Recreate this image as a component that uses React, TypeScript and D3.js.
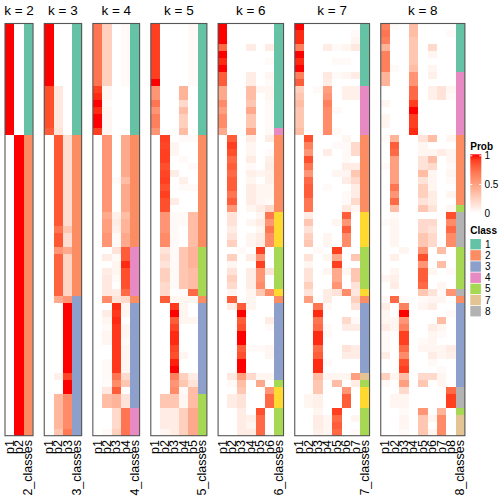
import React from 'react';
import * as d3 from 'd3';

// ---------- data (59 samples, same order in every panel) ----------
const k2p1 = [1,1,1,1,1,1,1,1,1,1, 1,1,1,1,1,1,0,0,0,0, 0,0,0,0,0,0,0,0,0,0, 0,0,0,0,0,0,0,0,0,0, 0,0,0,0,0,0,0,0,0,0, 0,0,0,0,0,0,0,0,0];
const k2p2 = [0,0,0,0,0,0,0,0,0,0, 0,0,0,0,0,0,1,1,1,1, 1,1,1,1,1,1,1,1,1,1, 1,1,1,1,1,1,1,1,1,1, 1,1,1,1,1,1,1,1,1,1, 1,1,1,1,1,1,1,1,1];
const k2cls = [1,1,1,1,1,1,1,1,1,1, 1,1,1,1,1,1,2,2,2,2, 2,2,2,2,2,2,2,2,2,2, 2,2,2,2,2,2,2,2,2,2, 2,2,2,2,2,2,2,2,2,2, 2,2,2,2,2,2,2,2,2];

const k3p1 = [1,1,1,1,1,1,1,1,1,.85, .85,.85,.85,.85,.85,.8,0,0,0,0, 0,0,0,0,0,0,0,0,0,0, 0,0,0,0,0,0,0,0,0,0, 0,0,0,0,0,0,0,0,0,0, 0,0,0,0,0,0,0,0,0];
const k3p2 = [0,0,0,0,0,0,0,0,0,.12, .12,.12,.12,.12,.12,.15,.82,.82,.82,.82, .82,.82,.82,.82,.82,.82,.82,.82,.82,.7, .82,.82,.55,.78,.78,.78,.78,.78,.78,.45, 0,0,0,0,0,0,0,0,0,0, .08,0,0,.38,.38,.38,.38,.38,.3];
const k3p3 = [0,0,0,0,0,0,0,0,0,0, 0,0,0,0,0,0,.18,.18,.18,.18, .18,.18,.18,.18,.18,.18,.18,.18,.18,.3, .18,.18,.45,.22,.22,.22,.22,.22,.22,.55, 1,1,1,1,1,1,1,1,1,1, .88,1,1,.6,.6,.6,.6,.6,.68];
const k3cls = [1,1,1,1,1,1,1,1,1,1, 1,1,1,1,1,1,2,2,2,2, 2,2,2,2,2,2,2,2,2,2, 2,2,2,2,2,2,2,2,2,3, 3,3,3,3,3,3,3,3,3,3, 3,3,3,3,3,3,3,3,3];

const k4p1 = [.7,.7,.7,.7,.7,.7,.7,.7,.7,.9, .95,1,.95,1,1,.9,0,0,0,0, 0,0,0,0,0,0,0,0,0,0, 0,0,0,0,0,0,0,0,0,0, 0,0,0,0,0,0,0,0,0,0, 0,0,0,0,0,0,0,0,0];
const k4p2 = [.25,.25,.25,.25,.25,.25,.25,.25,.25,.05, .05,.03,.05,.05,.05,.05,.55,.55,.55,.55, .55,.55,.55,.55,.55,.55,.55,.45,.5,.5, .55,.55,0,.1,0,.1,.12,.12,.12,.6, 0,.1,.05,.03,.05,.05,0,0,.03,.03, .03,.02,.12,.35,.35,0,0,0,.03];
const k4p3 = [0,0,0,0,0,0,0,0,0,0, 0,0,0,0,0,0,0,0,0,0, 0,0,.03,0,0,0,0,.08,.1,.08, .03,.03,.15,.03,.05,.05,.03,0,.1,.15, .95,.92,.95,.92,.92,.92,.92,.92,.92,.92, .7,.6,.8,.4,.4,.2,.2,.2,.25];
const k4p4 = [.03,.03,.03,.03,.03,.03,.03,.03,.03,0, 0,0,0,0,0,0,.45,.45,.45,.45, .45,.45,.35,.45,.45,.45,.45,.35,.4,.4, .45,.45,.8,.8,.95,.85,.85,.85,.75,.2, .05,.05,0,.05,.05,.03,.05,.05,.05,.05, .2,.3,0,.15,.15,.7,.7,.7,.7];
const k4cls = [1,1,1,1,1,1,1,1,1,1, 1,1,1,1,1,1,2,2,2,2, 2,2,2,2,2,2,2,2,2,2, 2,2,4,4,4,4,4,4,4,2, 3,3,3,3,3,3,3,3,3,3, 3,3,3,3,3,4,4,4,4];

const k5p1 = [.9,.9,.9,.9,.9,.9,.9,.9,1,.55, .55,.7,.55,.65,.65,.55,0,0,0,0, 0,0,0,0,0,0,0,0,0,0, 0,0,0,0,0,0,0,0,0,0, 0,0,0,0,0,0,0,0,0,0, 0,0,0,0,0,0,0,0,0];
const k5p2 = [0,0,0,0,0,0,0,0,0,0, 0,0,0,0,0,0,.9,.88,.9,.9, .85,.88,.9,.85,.9,.85,.85,.55,.55,.55, .6,.6,.15,.2,.15,.25,.25,.2,.2,.8, 0,0,0,0,0,0,0,0,0,0, 0,0,0,.3,.3,.1,.1,.1,.05];
const k5p3 = [0,0,0,0,0,0,0,0,0,0, 0,0,0,0,0,0,0,.05,.05,0, 0,.1,0,0,0,.1,0,.03,.03,.03, .03,.03,.03,.03,.03,.03,.03,.03,0,.05, .92,1,.8,.88,.95,.95,.88,.85,.97,1, .65,.55,.6,.3,.3,.1,.1,.1,.1];
const k5p4 = [0,0,0,0,0,0,0,0,0,.4, .4,.2,.35,.25,.25,.35,.03,0,0,.03, 0,0,.08,.03,0,0,0,.03,.03,0, 0,0,.3,.3,.3,.3,.3,.3,.03,.05, .05,.05,.05,0,0,0,0,.05,0,0, .25,.3,.03,.05,.05,.25,.25,.25,.25];
const k5p5 = [.03,.03,.03,.03,.03,.03,.03,.03,.03,0, 0,0,0,0,0,0,.03,0,0,0, .03,0,0,.03,0,0,0,.35,.35,.35, .35,.35,.4,.4,.4,.35,.35,.35,.75,.05, 0,0,.05,0,0,0,0,0,0,0, .1,.15,.35,.35,.35,.45,.45,.45,.45];
const k5cls = [1,1,1,1,1,1,1,1,1,1, 1,1,1,1,1,1,2,2,2,2, 2,2,2,2,2,2,2,2,2,2, 2,2,5,5,5,5,5,5,5,2, 3,3,3,3,3,3,3,3,3,3, 3,3,3,5,5,5,5,5,5];

const k6p1 = [1,1,1,.75,1,.95,1,.8,.8,.45, .45,.6,.5,.6,.6,.45,0,0,0,0, 0,0,0,0,0,0,0,0,0,0, 0,0,0,0,0,0,0,0,0,0, 0,0,0,0,0,0,0,0,0,0, 0,0,0,0,0,0,0,0,0];
const k6p2 = [0,0,0,0,0,0,0,0,0,0, 0,0,0,0,0,0,.8,.9,.85,.75, .8,.75,.8,.8,.7,.8,.55,.15,.15,.1, .15,.25,0,.25,.05,.15,.25,.2,.05,.8, .1,0,0,0,0,0,0,0,0,0, .12,.03,0,.1,.1,0,0,0,0];
const k6p3 = [0,0,0,0,0,0,0,0,0,0, 0,0,0,0,0,0,0,0,0,0, 0,0,0,0,0,0,0,0,0,0, 0,0,.03,0,0,0,0,0,0,0, .8,1,.8,.85,1,1,.8,.85,1,1, .5,.35,.3,.15,.15,.1,.1,.1,.1];
const k6p4 = [0,0,0,.1,0,0,0,.1,.1,.35, .35,.3,.45,.3,.3,.5,.1,.05,.05,.1, .03,.08,.05,.1,.1,.1,.05,0,.05,0, .05,.05,0,.1,0,.1,.1,.1,.05,.05, .05,0,0,0,0,0,.03,0,0,0, .2,0,0,0,0,0,.08,.05,.1];
const k6p5 = [0,0,0,0,0,0,0,0,0,.05, 0,0,0,0,0,0,0,0,0,0, 0,.05,0,.05,.05,.05,.1,.05,.1,.05, .1,.1,.9,.55,.9,.55,.55,.6,.3,0, 0,0,0,0,0,0,.03,0,0,0, .05,.45,0,0,0,.85,.75,.75,.75];
const k6p6 = [0,0,0,.1,0,.03,0,.05,.03,.05, .05,.03,.03,.03,.03,.03,.1,0,.03,.08, .1,.08,.08,.05,.05,.03,.2,.7,.55,.7, .6,.6,0,0,0,.15,0,0,.6,0, 0,0,.1,.03,0,0,.05,.05,0,0, .05,0,.55,.75,.75,0,0,0,0];
const k6cls = [1,1,1,1,1,1,1,1,1,1, 1,1,1,1,1,4,2,2,2,2, 2,2,2,2,2,2,2,6,6,6, 6,6,5,5,5,5,5,5,6,2, 3,3,3,3,3,3,3,3,3,3, 3,5,6,6,6,5,5,5,5];

const k7p1 = [1,.95,.95,.65,1,.95,1,.65,.8,.25, .3,.35,.3,.3,.3,.35,0,0,0,0, 0,0,0,0,0,0,0,0,0,0, 0,0,0,0,0,0,0,0,0,0, 0,0,0,0,0,0,0,0,0,0, 0,0,0,0,0,0,0,0,0];
const k7p2 = [0,0,0,0,0,0,0,0,0,0, 0,0,0,0,0,0,.85,.65,.55,.85, .7,.55,.75,.8,.8,.7,.7,.1,.3,.15, .25,.3,0,.15,.05,.15,.15,.25,.15,.5, 0,0,0,0,0,0,0,0,0,0, 0,0,0,.05,.05,0,0,0,0];
const k7p3 = [0,0,0,0,0,0,0,0,0,.03, 0,0,0,0,0,0,0,0,0,0, 0,0,0,0,0,0,0,0,0,0, 0,0,.03,0,0,0,0,0,0,0, .7,.95,.7,.75,.95,.95,.75,.8,.95,.95, .35,.3,.3,.08,.08,.05,.1,.1,.08];
const k7p4 = [0,0,0,.1,0,0,0,.12,.1,.5, .55,.65,.6,.6,.6,.6,0,0,.1,0, 0,0,0,.03,0,0,0,0,0,0, .05,.05,0,.05,0,.05,0,0,.1,.1, .03,0,0,.03,.03,0,0,0,.03,0, .05,0,0,0,0,0,.05,.05,.05];
const k7p5 = [0,0,0,.03,0,.03,0,.03,0,0, 0,0,.03,0,0,.03,0,.03,0,0, 0,.05,0,0,0,0,0,0,.05,0, 0,0,.9,.45,.9,.45,.45,.55,.15,0, 0,0,0,0,0,0,0,0,0,0, .05,.35,0,0,0,.9,.75,.8,.75];
const k7p6 = [0,0,0,.05,0,.03,0,.05,0,.08, .08,0,0,0,0,0,.05,.03,.03,.03, .1,.05,.1,0,.03,.03,.12,.8,.55,.8, .6,.6,0,0,0,.05,0,0,.6,0, 0,0,.2,.1,0,0,.15,.1,0,0, .05,0,.55,.8,.8,0,0,0,0];
const k7p7 = [0,.03,.05,.12,0,0,0,.1,0,.08, .08,0,0,0,0,0,0,.2,.2,0, .1,.3,.2,.1,.1,.2,.05,0,0,0, 0,0,0,.3,0,.3,.3,.15,.12,.25, .15,0,.03,.1,0,0,.1,.1,0,0, .5,.1,0,0,0,0,.05,0,.03];
const k7cls = [1,1,1,1,1,1,1,1,1,4, 4,4,4,4,4,4,2,2,2,2, 2,2,2,2,2,2,2,6,6,6, 6,6,5,5,5,5,5,5,6,2, 3,3,3,3,3,3,3,3,3,3, 7,5,6,6,6,5,5,5,5];

const k8p1 = [.65,.7,.65,.4,.65,.65,.65,.4,.4,0, 0,.05,0,.05,.05,0,.03,0,0,0, .03,0,0,0,0,0,0,0,.03,0, 0,0,0,0,0,0,.05,0,0,.03, .1,.05,.05,.1,.03,.03,.03,.1,0,0, .25,.03,0,0,0,0,0,0,0];
const k8p2 = [.03,0,0,0,0,0,.03,0,0,0, 0,0,0,0,0,0,.4,.8,.75,.5, .5,.5,.5,.7,.55,.75,.35,.03,.05,.05, .05,.05,0,.08,0,.05,.08,.1,0,.75, 0,0,.05,.05,0,0,0,0,0,0, .05,0,0,.05,.05,0,0,0,0];
const k8p3 = [0,0,0,0,0,0,0,0,0,0, 0,0,0,0,0,0,0,0,0,0, 0,0,0,0,0,0,0,0,0,0, 0,0,.05,0,0,0,0,0,0,.03, .65,1,.55,.65,.9,.9,.75,.6,.85,.9, .35,.5,.2,.05,.05,.03,.05,.05,.03];
const k8p4 = [.35,.35,.3,.3,.3,.3,.35,.55,.55,.75, .75,.9,1,.9,.9,.95,0,0,0,0, 0,0,0,0,0,0,0,0,0,0, 0,0,0,0,0,0,0,0,0,0, 0,0,0,0,0,0,0,0,0,0, 0,0,0,0,0,0,0,0,0];
const k8p5 = [0,0,0,0,0,0,0,0,0,0, 0,0,0,0,0,0,.15,.05,.05,.15, .15,.35,.15,.25,.25,.15,.3,0,.2,.2, .3,.3,.55,.85,.55,.8,.8,.75,.3,.03, .05,0,0,0,0,.03,.05,0,0,0, .2,.3,0,0,0,.55,.3,.3,.3];
const k8p6 = [0,0,0,.2,.05,0,.05,.08,0,.08, .08,0,0,0,0,0,.35,0,.05,.35, .2,.05,.05,.05,.1,.1,.15,0,.2,.15, .2,.2,0,0,0,.05,0,0,.15,.05, .1,0,0,.1,.05,.05,.05,.1,.03,0, .2,0,0,0,0,0,.05,0,.05];
const k8p7 = [0,0,0,0,0,0,0,0,0,.15, .15,0,0,0,0,0,0,0,.1,0, 0,0,0,0,0,0,0,0,0,0, 0,0,.35,0,.35,0,0,.05,.03,.05, 0,0,.35,.05,.03,0,.05,.05,0,.03, .05,.05,0,0,0,.4,.6,.6,.6];
const k8p8 = [0,.03,0,0,0,0,0,0,0,.05, .03,0,0,0,0,0,.05,0,.05,.05, .03,.05,.03,0,.05,0,.05,.85,.6,.75, .6,.6,0,0,0,.03,0,0,.55,0, 0,.03,0,0,0,0,.1,.08,0,0, 0,0,.75,.9,.9,0,0,0,0];
const k8cls = [1,1,1,1,1,1,1,4,4,4, 4,4,4,4,4,4,2,2,2,2, 2,2,2,2,2,2,5,8,8,8, 8,8,5,5,5,5,5,5,8,2, 3,3,3,3,3,3,3,3,3,3, 3,3,8,8,8,5,7,7,7];

const kValues = [2, 3, 4, 5, 6, 7, 8];
const probColumns = [
  [k2p1, k2p2],
  [k3p1, k3p2, k3p3],
  [k4p1, k4p2, k4p3, k4p4],
  [k5p1, k5p2, k5p3, k5p4, k5p5],
  [k6p1, k6p2, k6p3, k6p4, k6p5, k6p6],
  [k7p1, k7p2, k7p3, k7p4, k7p5, k7p6, k7p7],
  [k8p1, k8p2, k8p3, k8p4, k8p5, k8p6, k8p7, k8p8],
];
const classColumns = [k2cls, k3cls, k4cls, k5cls, k6cls, k7cls, k8cls];

const classIds = [1, 2, 3, 4, 5, 6, 7, 8];
const classPalette = ['#66C2A5', '#FC8D62', '#8DA0CB', '#E78AC3', '#A6D854', '#FFD92F', '#E5C494', '#B3B3B3'];
const legendClasses = [1, 2, 3, 4, 5, 7, 8];
const probTicks = [1, 0.5, 0];

// ---------- layout ----------
const W = 504, H = 504;
const LEFT = 5, COLW = 9.35, GAP = 11.2;
const TOP = 23.5, BOTTOM = 435.7;
const FONT = "'Liberation Sans', Arial, Helvetica, sans-serif";

const probColor = d3.scaleLinear<string>().domain([0, 1]).range(['#FFFFFF', '#FF0000']).interpolate(d3.interpolateLab);
const classColor = d3.scaleOrdinal<number, string>().domain(classIds).range(classPalette);
const nRows = k2cls.length;
const yScale = d3.scaleBand<number>().domain(d3.range(nRows)).range([TOP, BOTTOM]).padding(0);

export default function App() {
  let offset = LEFT;
  const panels = kValues.map((k, pi) => {
    const labels = [...probColumns[pi].map((_, j) => `p${j + 1}`), `${k}_classes`];
    const x0 = offset;
    const w = labels.length * COLW;
    offset += w + GAP;
    const xScale = d3.scaleBand<string>().domain(labels).range([x0, x0 + w]).padding(0);
    return { k, pi, labels, x0, w, xScale };
  });

  const legX = 470.3;
  const barTop = 154.3, barBottom = 213.2;
  const barScale = d3.scaleLinear().domain([0, 1]).range([barBottom, 155.8]);
  const gradStops = d3.range(0, 1.0001, 0.1);

  return (
    <svg width={W} height={H} style={{ position: 'absolute', left: 0, top: 0 }} fontFamily={FONT}>
      <defs>
        <linearGradient id="probGrad" x1="0" y1="1" x2="0" y2="0">
          {gradStops.map((v) => (
            <stop key={v} offset={`${v * 100}%`} stopColor={probColor(v)} />
          ))}
        </linearGradient>
      </defs>
      <rect x={0} y={0} width={W} height={H} fill="#FFFFFF" />
      {panels.map(({ k, pi, labels, x0, w, xScale }) => (
        <g key={k}>
          <text x={x0 + w / 2} y={15} textAnchor="middle" fontSize={13.5} fill="#000">{`k = ${k}`}</text>
          <g shapeRendering="crispEdges">
            {probColumns[pi].map((col, j) =>
              col.map((v, i) => (
                <rect key={`${j}-${i}`} x={xScale(labels[j])} y={yScale(i)} width={xScale.bandwidth()} height={yScale.bandwidth()} fill={probColor(v)} />
              ))
            )}
            {classColumns[pi].map((c, i) => (
              <rect key={`c-${i}`} x={xScale(labels[labels.length - 1])} y={yScale(i)} width={xScale.bandwidth()} height={yScale.bandwidth()} fill={classColor(c)} />
            ))}
          </g>
          <rect x={x0} y={TOP} width={w} height={BOTTOM - TOP} fill="none" stroke="#555" strokeWidth={1.1} />
          {labels.map((l) => {
            const cx = (xScale(l) as number) + xScale.bandwidth() / 2;
            const ly = 440;
            return (
              <text key={l} x={cx} y={ly} transform={`rotate(-90 ${cx} ${ly})`} textAnchor="end" dominantBaseline="central" fontSize={12.5} fill="#000">{l}</text>
            );
          })}
        </g>
      ))}

      {/* Prob legend */}
      <text x={legX} y={149.5} fontSize={10} fontWeight="bold" fill="#000">Prob</text>
      <rect x={legX} y={barTop} width={11} height={barBottom - barTop} fill="url(#probGrad)" />
      {probTicks.filter((t) => t > 0).map((t) => (
        <g key={`tk-${t}`} stroke="#FFFFFF" strokeWidth={1}>
          <line x1={legX} x2={legX + 2} y1={barScale(t)} y2={barScale(t)} />
          <line x1={legX + 9} x2={legX + 11} y1={barScale(t)} y2={barScale(t)} />
        </g>
      ))}
      {probTicks.map((t) => (
        <text key={`tl-${t}`} x={484.5} y={barScale(t)} dominantBaseline="central" fontSize={10} fill="#000">{String(t)}</text>
      ))}

      {/* Class legend */}
      <text x={legX} y={233.5} fontSize={10} fontWeight="bold" fill="#000">Class</text>
      {legendClasses.map((c, i) => {
        const y = 239 + i * 11.17;
        return (
          <g key={`lc-${c}`}>
            <rect x={legX} y={y} width={10.6} height={10.4} fill={classColor(c)} />
            <text x={485} y={y + 5.2} dominantBaseline="central" fontSize={10} fill="#000">{String(c)}</text>
          </g>
        );
      })}
    </svg>
  );
}
